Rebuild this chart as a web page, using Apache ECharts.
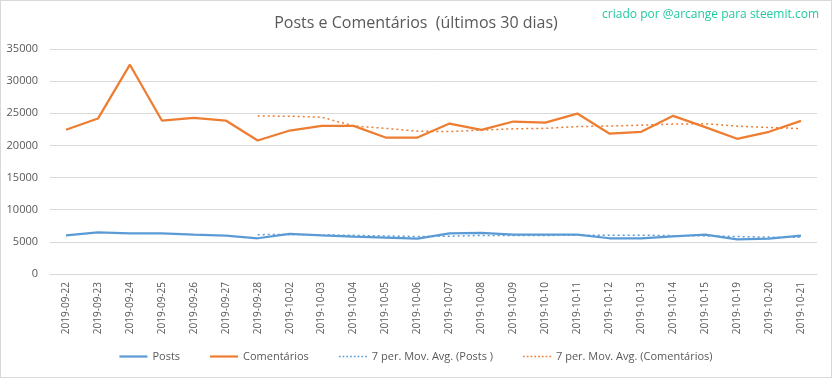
<!DOCTYPE html>
<html><head><meta charset="utf-8">
<script src="https://cdn.jsdelivr.net/npm/echarts@6/dist/echarts.min.js"></script>
<style>html,body{margin:0;padding:0;background:#fff}#c{width:830px;height:376px;border:1px solid #d9d9d9}</style>
</head><body><div id="c"></div>
<script>
const categories = ['2019-09-22','2019-09-23','2019-09-24','2019-09-25','2019-09-26','2019-09-27','2019-09-28','2019-10-02','2019-10-03','2019-10-04','2019-10-05','2019-10-06','2019-10-07','2019-10-08','2019-10-09','2019-10-10','2019-10-11','2019-10-12','2019-10-13','2019-10-14','2019-10-15','2019-10-19','2019-10-20','2019-10-21'];
const posts = [6020,6490,6330,6330,6130,5975,5560,6230,6020,5820,5665,5510,6330,6390,6130,6130,6130,5560,5560,5870,6130,5400,5510,5975];
const comentarios = [22430,24180,32560,23870,24290,23870,20770,22320,23050,23050,21230,21230,23400,22430,23720,23560,24960,21850,22120,24600,22840,21030,22120,23820];
const maPosts = [null,null,null,null,null,null,6119,6149,6082,6009,5914,5826,5876,5995,5981,5996,6041,6026,6033,5967,5930,5826,5737,5715];
const maComentarios = [null,null,null,null,null,null,24567,24551,24390,23031,22654,22217,22150,22387,22587,22660,22933,23021,23149,23320,23379,22994,22789,22626];
const yTicks = [0,5000,10000,15000,20000,25000,30000,35000];

const chart = echarts.init(document.getElementById('c'));
const txt = '#595959';
const font = "'Open Sans', sans-serif";
const solidIcon = 'path://M0,0L28,0L28,2.2L0,2.2Z';
let dots = '';
for (let i = 0; i < 28; i += 3.5) dots += 'M' + i + ',0h1.6v1.6h-1.6Z';
const dotIcon = 'path://' + dots;
chart.setOption({
  animation:false,
  textStyle:{fontFamily:font},
  title:{text:'Posts e Comentários  (últimos 30 dias)',left:'center',top:9,textStyle:{fontFamily:font,fontSize:16,fontWeight:'normal',color:txt}},
  graphic:[{type:'text',right:12,top:8,style:{text:'criado por @arcange para steemit.com',fill:'#22c9a0',font:"12px 'Open Sans', sans-serif"}}],
  grid:{left:49,right:14,top:48,bottom:103,containLabel:false},
  legend:{bottom:10,left:'center',itemGap:30,itemWidth:28,itemHeight:10,textStyle:{color:txt,fontSize:11,fontFamily:font},
    data:[{name:'Posts',icon:solidIcon},{name:'Comentários',icon:solidIcon},{name:'7 per. Mov. Avg. (Posts )',icon:dotIcon},{name:'7 per. Mov. Avg. (Comentários)',icon:dotIcon}]},
  xAxis:{type:'category',data:categories,boundaryGap:true,
    axisLine:{lineStyle:{color:'#d9d9d9'}},axisTick:{show:false},
    axisLabel:{rotate:90,color:txt,fontSize:10,margin:8,interval:0,fontFamily:font}},
  yAxis:{type:'value',min:0,max:35000,interval:5000,
    axisLine:{show:false},axisTick:{show:false},
    splitLine:{lineStyle:{color:'#d9d9d9'}},
    axisLabel:{color:txt,fontSize:11,margin:12,fontFamily:font,formatter:v=>yTicks.includes(v)?String(v):''}},
  series:[
    {name:'Posts',type:'line',data:posts,symbol:'none',lineStyle:{color:'#5b9bd5',width:2.25},itemStyle:{color:'#5b9bd5'}},
    {name:'Comentários',type:'line',data:comentarios,symbol:'none',lineStyle:{color:'#ed7d31',width:2.25},itemStyle:{color:'#ed7d31'}},
    {name:'7 per. Mov. Avg. (Posts )',type:'line',data:maPosts,symbol:'none',lineStyle:{color:'#5b9bd5',width:1.5,type:[2,3]},itemStyle:{color:'#5b9bd5'}},
    {name:'7 per. Mov. Avg. (Comentários)',type:'line',data:maComentarios,symbol:'none',lineStyle:{color:'#ed7d31',width:1.5,type:[2,3]},itemStyle:{color:'#ed7d31'}}
  ]
});
</script></body></html>
